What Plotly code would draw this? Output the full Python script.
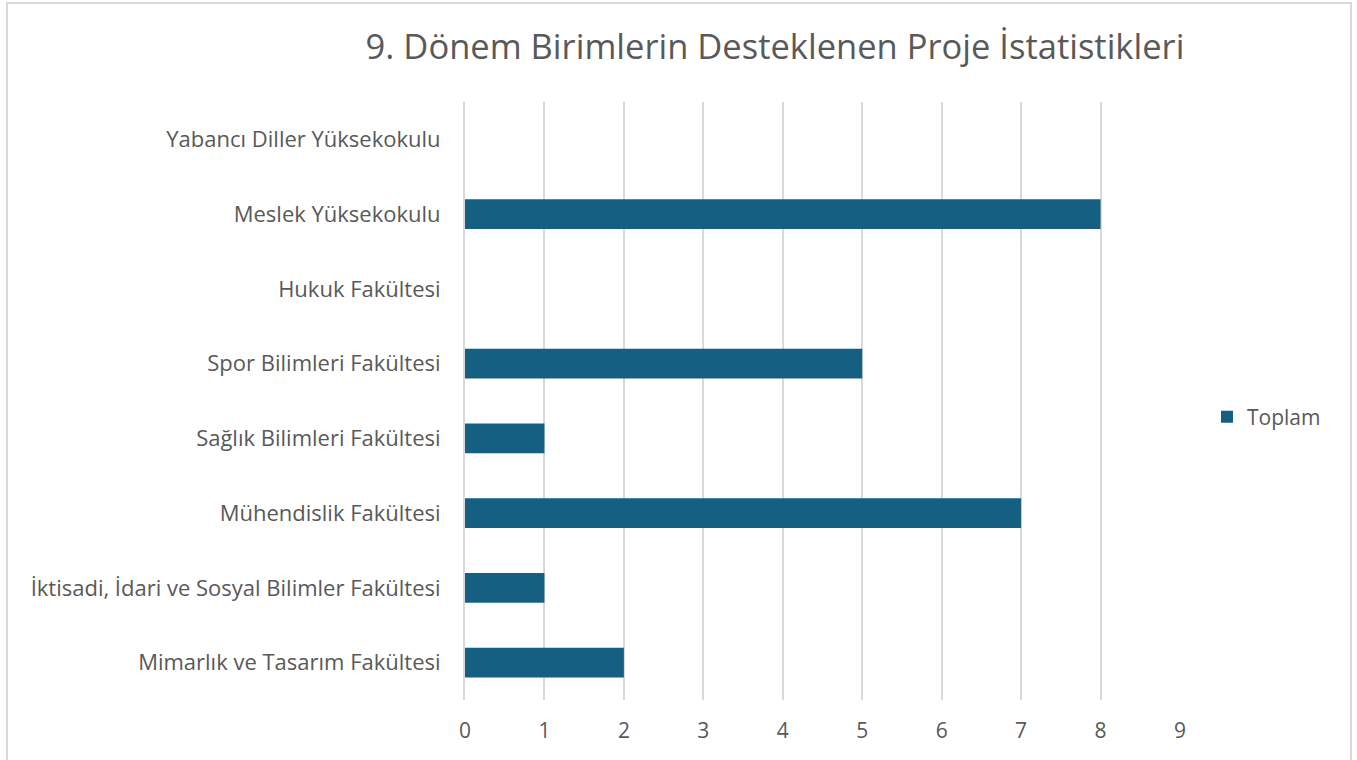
import plotly.graph_objects as go

categories = [
    "Mimarlık ve Tasarım Fakültesi",
    "İktisadi, İdari ve Sosyal Bilimler Fakültesi",
    "Mühendislik Fakültesi",
    "Sağlık Bilimleri Fakültesi",
    "Spor Bilimleri Fakültesi",
    "Hukuk Fakültesi",
    "Meslek Yüksekokulu",
    "Yabancı Diller Yüksekokulu",
]
toplam = [2, 1, 7, 1, 5, None, 8, None]
x_ticks = [0, 1, 2, 3, 4, 5, 6, 7, 8, 9]

W, H = 1357, 760
L, R, T, B = 465, 1180, 102, 700

fig = go.Figure()
fig.add_trace(go.Bar(
    y=categories, x=toplam, orientation="h", name="Toplam",
    marker=dict(color="#156082", line=dict(width=0)),
))

def px_x(p):
    return (p - L) / (R - L)

def px_y(p):
    return (B - p) / (B - T)

FONT = "'Open Sans', 'Noto Sans', sans-serif"
GREY = "#595959"

fig.update_layout(
    width=W, height=H,
    margin=dict(l=L, r=W - R, t=T, b=H - B, autoexpand=False),
    paper_bgcolor="white", plot_bgcolor="white",
    font=dict(family=FONT, color=GREY, size=22),
    title=dict(text="9. Dönem Birimlerin Desteklenen Proje İstatistikleri",
               x=px_x(775), xref="paper", xanchor="center",
               y=1 - 47 / H, yref="container", yanchor="middle",
               font=dict(size=34.5, color=GREY, family=FONT)),
    bargap=0.6,
    showlegend=True,
    legend=dict(x=px_x(1207), xanchor="left", y=px_y(417), yanchor="middle",
                font=dict(size=21, color=GREY, family=FONT), itemwidth=30,
                bgcolor="rgba(0,0,0,0)"),
    xaxis=dict(range=[0, 9], tickvals=x_ticks, showgrid=True, gridcolor="#d9d9d9",
               gridwidth=2, zeroline=False, showline=False, ticks="",
               tickfont=dict(size=21, color=GREY, family=FONT), ticklabelstandoff=16),
    yaxis=dict(showgrid=False, zeroline=False, showline=True, linecolor="#d9d9d9",
               linewidth=2, ticks="", tickfont=dict(size=22, color=GREY, family=FONT),
               ticklabelstandoff=18),
    shapes=[dict(type="rect", xref="paper", yref="paper",
                 x0=px_x(7), x1=px_x(1351), y0=px_y(3), y1=px_y(790),
                 line=dict(color="#d9d9d9", width=2), fillcolor="rgba(0,0,0,0)",
                 layer="below")],
)

fig.write_html("out.html", config={"displayModeBar": False},
               post_script="document.body.style.margin='0';")
